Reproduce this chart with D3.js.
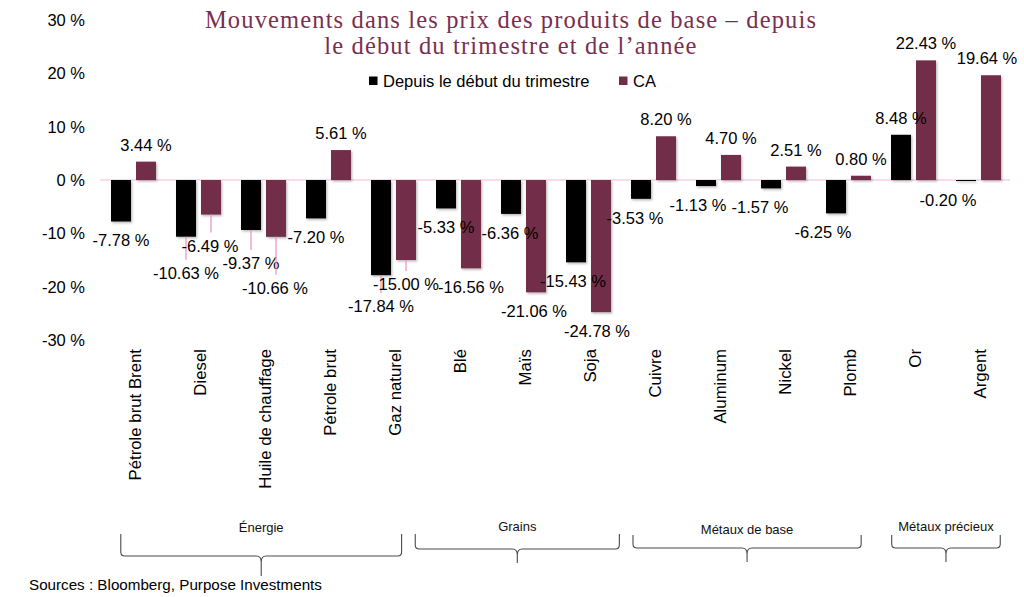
<!DOCTYPE html>
<html>
<head>
<meta charset="utf-8">
<script src="https://cdn.jsdelivr.net/npm/d3@7"></script>
<style>
  html, body { margin: 0; padding: 0; background: #fff; }
  svg { display: block; }
</style>
</head>
<body>
<svg id="chart" width="1024" height="597"></svg>
<script>
// ---------- DATA ----------
const categories = ["Pétrole brut Brent", "Diesel", "Huile de chauffage", "Pétrole brut", "Gaz naturel",
  "Blé", "Maïs", "Soja", "Cuivre", "Aluminum", "Nickel", "Plomb", "Or", "Argent"];
const seriesNames = ["Depuis le début du trimestre", "CA"];
const qtdValues = [-7.78, -10.63, -9.37, -7.20, -17.84, -5.33, -6.36, -15.43, -3.53, -1.13, -1.57, -6.25, 8.48, -0.20];
const ytdValues = [3.44, -6.49, -10.66, 5.61, -15.00, -16.56, -21.06, -24.78, 8.20, 4.70, 2.51, 0.80, 22.43, 19.64];
const yTickValues = [-30, -20, -10, 0, 10, 20, 30];
const groupNames = ["Énergie", "Grains", "Métaux de base", "Métaux précieux"];
const titleLines = ["Mouvements dans les prix des produits de base – depuis", "le début du trimestre et de l’année"];
const sourceText = "Sources : Bloomberg, Purpose Investments";

// ---------- LAYOUT / STYLE (not data) ----------
const colors = ["#000000", "#722D4A"];
const titleColor = "#7A2F50";
// manual label nudges [dx, extra dy] like hand-moved Excel labels
const labelAdjust = [
  [[0,0],[0,17],[0,14],[0,0],[0,12],[0,0],[-1,0],[-3,0],[-6,0],[-8,0],[-11,0],[-13,0],[0,0],[-18,0]],
  [[0,0],[-1,12],[-1,32],[0,0],[0,5],[0,0],[-2,0],[-4,0],[0,0],[0,0],[0,0],[0,0],[0,0],[-4,0]]
];
// bracket extents in category units, plus vertical geometry
const bracketLayout = [
  {u0: 0.32, u1: 4.64, yTop: 534, yH: 556, yTip: 576, labelY: 532},
  {u0: 4.85, u1: 7.99, yTop: 534, yH: 549, yTip: 563, labelY: 531},
  {u0: 8.20, u1: 11.71, yTop: 535, yH: 548, yTip: 562, labelY: 534},
  {u0: 12.18, u1: 13.85, yTop: 535, yH: 548, yTip: 562, labelY: 531}
];

const svg = d3.select("#chart");
const sans = "'Liberation Sans', Arial, sans-serif";

// defs: drop shadow
const defs = svg.append("defs");
const f = defs.append("filter").attr("id", "shadow").attr("x", "-20%").attr("y", "-20%").attr("width", "150%").attr("height", "150%");
f.append("feDropShadow").attr("dx", 1.2).attr("dy", 1.5).attr("stdDeviation", 1.2)
  .attr("flood-color", "#000").attr("flood-opacity", 0.28);

// scales
const x0 = d3.scaleBand().domain(categories).range([101, 1011]).paddingInner(20/65).paddingOuter(10/65);
const x1 = d3.scaleBand().domain(seriesNames).range([0, x0.bandwidth()]).paddingInner(0.2);
const y = d3.scaleLinear().domain([-30, 30]).range([340, 20]);
const step = x0.step();
const uToX = u => 100 + u * step;

// y tick labels
svg.append("g").selectAll("text").data(yTickValues).join("text")
  .attr("x", 85).attr("y", d => y(d)).attr("dy", "0.36em")
  .attr("text-anchor", "end")
  .style("font-family", sans).style("font-size", "16.5px").attr("fill", "#000")
  .text(d => d + " %");

// zero line
svg.append("line").attr("x1", 100).attr("x2", 1010).attr("y1", y(0)).attr("y2", y(0))
  .attr("stroke", "#F6B8D6").attr("stroke-width", 1.2);

// bars
const seriesData = [qtdValues, ytdValues];
const barsG = svg.append("g");
seriesData.forEach((vals, si) => {
  barsG.append("g").attr("filter", "url(#shadow)").selectAll("rect").data(vals).join("rect")
    .attr("x", (d, i) => x0(categories[i]) + x1(seriesNames[si]))
    .attr("width", x1.bandwidth())
    .attr("y", d => y(Math.max(0, d)))
    .attr("height", d => Math.max(0.8, Math.abs(y(d) - y(0))))
    .attr("fill", colors[si]);
});

// data labels + leader lines
const fmt = d => d3.format(".2f")(d).replace("−", "-") + " %";
const labG = svg.append("g");
seriesData.forEach((vals, si) => {
  vals.forEach((v, i) => {
    const cx = x0(categories[i]) + x1(seriesNames[si]) + x1.bandwidth() / 2;
    const [adx, ady] = labelAdjust[si][i];
    let cy;
    if (v >= 0) cy = y(v) - 17;
    else cy = y(v) + 19 + ady;
    const lx = cx + adx;
    if (v < 0 && ady >= 5) {
      labG.append("line").attr("x1", cx).attr("x2", cx)
        .attr("y1", y(v)).attr("y2", cy - 13)
        .attr("stroke", "#F08DC2").attr("stroke-width", 1.2);
    }
    labG.append("text").attr("x", lx).attr("y", cy).attr("dy", "0.36em")
      .attr("text-anchor", "middle")
      .style("font-family", sans).style("font-size", "16.5px").attr("fill", "#000")
      .text(fmt(v));
  });
});

// category labels (rotated)
svg.append("g").selectAll("text").data(categories).join("text")
  .attr("transform", d => `translate(${x0(d) + x0.bandwidth() / 2 + 7},349) rotate(-90)`)
  .attr("text-anchor", "end")
  .style("font-family", sans).style("font-size", "16.8px").attr("fill", "#000")
  .text(d => d);

// title
const titleG = svg.append("g");
const tl = titleG.selectAll("text").data(titleLines).join("text")
  .attr("x", 511).attr("y", (d, i) => 28 + i * 26)
  .attr("text-anchor", "middle")
  .style("font-family", "'Liberation Serif', 'Times New Roman', serif")
  .style("font-size", "24.5px").attr("fill", titleColor)
  .text(d => d);
const w1 = tl.nodes()[0].getComputedTextLength();
const ls = Math.max(0, (611 - w1) / (titleLines[0].length - 1));
tl.style("letter-spacing", ls + "px");

// legend
const legX = [369, 619];
const leg = svg.append("g");
seriesNames.forEach((s, i) => {
  leg.append("rect").attr("x", legX[i]).attr("y", 76.5).attr("width", 8.5).attr("height", 8.5).attr("fill", colors[i]);
  leg.append("text").attr("x", legX[i] + 14).attr("y", 86.5)
    .style("font-family", sans).style("font-size", "16.5px").attr("fill", "#000").text(s);
});

// group brackets
const br = svg.append("g");
groupNames.forEach((g, i) => {
  const b = bracketLayout[i];
  const xa = uToX(b.u0), xb = uToX(b.u1), xc = (xa + xb) / 2;
  const r = 4;
  const p = d3.path();
  p.moveTo(xa, b.yTop);
  p.lineTo(xa, b.yH - r);
  p.quadraticCurveTo(xa, b.yH, xa + r, b.yH);
  p.lineTo(xc - 5, b.yH);
  p.quadraticCurveTo(xc, b.yH, xc, b.yH + 6);
  p.lineTo(xc, b.yTip);
  p.moveTo(xc, b.yH + 6);
  p.quadraticCurveTo(xc, b.yH, xc + 5, b.yH);
  p.lineTo(xb - r, b.yH);
  p.quadraticCurveTo(xb, b.yH, xb, b.yH - r);
  p.lineTo(xb, b.yTop);
  br.append("path").attr("d", p.toString()).attr("fill", "none")
    .attr("stroke", "#4a4a4a").attr("stroke-width", 1.1);
  br.append("text").attr("x", xc).attr("y", b.labelY).attr("text-anchor", "middle")
    .style("font-family", sans).style("font-size", "13px").attr("fill", "#111").text(g);
});

// source
svg.append("text").attr("x", 29).attr("y", 590)
  .style("font-family", sans).style("font-size", "15.2px").attr("fill", "#000").text(sourceText);
</script>
</body>
</html>
